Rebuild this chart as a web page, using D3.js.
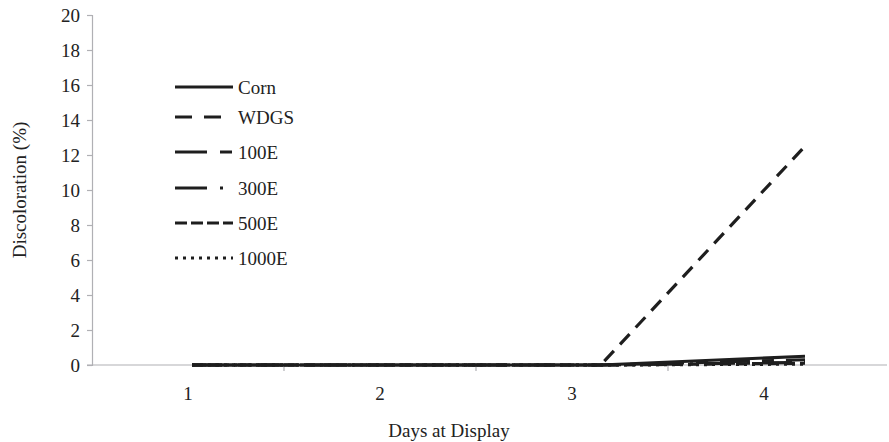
<!DOCTYPE html>
<html>
<head>
<meta charset="utf-8">
<script src="https://cdn.jsdelivr.net/npm/d3@7"></script>
<style>
  html, body { margin: 0; padding: 0; background: #fff; }
  svg { display: block; font-family: "Liberation Serif", "DejaVu Serif", serif; }
</style>
</head>
<body>
<div id="chart"></div>
<script>
// ---- data ----
const days = [1, 2, 3, 4];
const dayLabels = ["1", "2", "3", "4"];
const yTicks = [0, 2, 4, 6, 8, 10, 12, 14, 16, 18, 20];
const seriesNames = ["Corn", "WDGS", "100E", "300E", "500E", "1000E"];
const corn  = [0, 0, 0, 0.5];
const wdgs  = [0, 0, 0, 12.5];
const e100  = [0, 0, 0, 0.3];
const e300  = [0, 0, 0, 0.15];
const e500  = [0, 0, 0, 0.1];
const e1000 = [0, 0, 0, 0.05];
const seriesValues = [corn, wdgs, e100, e300, e500, e1000];

// ---- styles ----
const dashes = ["none", "14,9", "30,12,12,12", "30,12,3,12", "11,5", "3,5"];
const legendDashes = ["none", "17,12", "32,13,12,13", "32,13,3,13", "12,4", "3,5"];
const W = 889, H = 442;
const mLeft = 92, mTop = 15, mBottom = 365;
const FS = 19;

const svg = d3.select("#chart").append("svg").attr("width", W).attr("height", H);

const y = d3.scaleLinear().domain([0, 20]).range([mBottom, mTop]);
const xBand = d3.scaleBand().domain(dayLabels).range([mLeft, 860]).paddingInner(0).paddingOuter(0);
const x = d3.scaleLinear().domain([1, 4]).range([192, 805]);

// y axis
const yAxis = d3.axisLeft(y).tickValues(yTicks).tickSize(5).tickPadding(7);
const gy = svg.append("g").attr("transform", `translate(${mLeft},0)`).call(yAxis);
gy.select(".domain").attr("stroke", "#b0b0b4").attr("stroke-width", 1.2);
gy.selectAll(".tick line").attr("stroke", "#b0b0b4").attr("stroke-width", 1.2);
gy.selectAll(".tick text").attr("font-size", FS).attr("fill", "#222")
  .attr("font-family", "Liberation Serif, serif");

// x axis line
svg.append("line").attr("x1", 87).attr("x2", 887).attr("y1", mBottom).attr("y2", mBottom)
  .attr("stroke", "#b0b0b4").attr("stroke-width", 1.2);
// x ticks at band boundaries
const boundaries = dayLabels.slice(1).map(d => xBand(d));
svg.selectAll(".xtick").data(boundaries).enter().append("line")
  .attr("x1", d => d).attr("x2", d => d).attr("y1", mBottom).attr("y2", mBottom + 6)
  .attr("stroke", "#b0b0b4").attr("stroke-width", 1.2);
svg.selectAll(".xlab").data(dayLabels).enter().append("text")
  .attr("x", d => xBand(d) + xBand.bandwidth() / 2).attr("y", 400)
  .attr("text-anchor", "middle").attr("font-size", FS).attr("fill", "#222")
  .text(d => d);

// axis titles
svg.append("text").attr("x", 449).attr("y", 437).attr("text-anchor", "middle")
  .attr("font-size", FS).attr("fill", "#222").text("Days at Display");
svg.append("text").attr("transform", "translate(26,190) rotate(-90)")
  .attr("text-anchor", "middle").attr("font-size", FS).attr("fill", "#222")
  .text("Discoloration (%)");

// lines
const line = d3.line().x((d, i) => x(days[i])).y(d => y(d));
const order = [5, 4, 3, 2, 0, 1];
order.forEach(k => {
  svg.append("path").datum(seriesValues[k])
    .attr("d", line).attr("fill", "none")
    .attr("stroke", "#1e1e1e").attr("stroke-width", 3.2)
    .attr("stroke-dasharray", dashes[k]);
});

// legend
const legendY = [87, 117, 152, 188, 223, 258];
const lg = svg.append("g");
seriesNames.forEach((name, k) => {
  lg.append("line").attr("x1", 175).attr("x2", 233).attr("y1", legendY[k]).attr("y2", legendY[k])
    .attr("stroke", "#1e1e1e").attr("stroke-width", 3.2)
    .attr("stroke-dasharray", legendDashes[k]);
  lg.append("text").attr("x", 238).attr("y", legendY[k] + 6.5)
    .attr("font-size", FS).attr("fill", "#222").text(name);
});
</script>
</body>
</html>
